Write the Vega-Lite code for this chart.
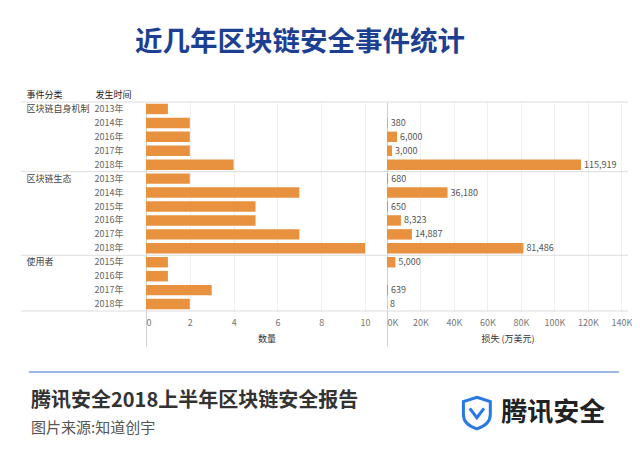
{
  "$schema": "https://vega.github.io/schema/vega-lite/v6.json",
  "padding": {"left": 20, "top": 28, "right": 0, "bottom": 0},
  "background": "white",
  "title": {"text": "近几年区块链安全事件统计", "fontSize": 27.5, "fontWeight": "bold", "color": "#1d3f91", "anchor": "middle", "dx": -26, "offset": 34},
  "datasets": {
    "rows": [
      {"key": "区块链自身机制|2013年", "cat": "区块链自身机制", "year": "2013年", "count": 1, "loss": null},
      {"key": "区块链自身机制|2014年", "cat": "区块链自身机制", "year": "2014年", "count": 2, "loss": 380},
      {"key": "区块链自身机制|2016年", "cat": "区块链自身机制", "year": "2016年", "count": 2, "loss": 6000},
      {"key": "区块链自身机制|2017年", "cat": "区块链自身机制", "year": "2017年", "count": 2, "loss": 3000},
      {"key": "区块链自身机制|2018年", "cat": "区块链自身机制", "year": "2018年", "count": 4, "loss": 115919},
      {"key": "区块链生态|2013年", "cat": "区块链生态", "year": "2013年", "count": 2, "loss": 680},
      {"key": "区块链生态|2014年", "cat": "区块链生态", "year": "2014年", "count": 7, "loss": 36180},
      {"key": "区块链生态|2015年", "cat": "区块链生态", "year": "2015年", "count": 5, "loss": 650},
      {"key": "区块链生态|2016年", "cat": "区块链生态", "year": "2016年", "count": 5, "loss": 8323},
      {"key": "区块链生态|2017年", "cat": "区块链生态", "year": "2017年", "count": 7, "loss": 14887},
      {"key": "区块链生态|2018年", "cat": "区块链生态", "year": "2018年", "count": 10, "loss": 81486},
      {"key": "使用者|2015年", "cat": "使用者", "year": "2015年", "count": 1, "loss": 5000},
      {"key": "使用者|2016年", "cat": "使用者", "year": "2016年", "count": 1, "loss": null},
      {"key": "使用者|2017年", "cat": "使用者", "year": "2017年", "count": 3, "loss": 639},
      {"key": "使用者|2018年", "cat": "使用者", "year": "2018年", "count": 2, "loss": 8}
    ],
    "tops": [{"key": "区块链自身机制|2013年"}, {"key": "区块链生态|2013年"}, {"key": "使用者|2015年"}],
    "ends": [{"key": "使用者|2018年"}]
  },
  "spacing": 24,
  "vconcat": [
    {
      "bounds": "flush",
      "spacing": 0,
      "hconcat": [
        {
          "width": 73, "height": 209,
          "layer": [
            {
              "data": {"name": "tops"},
              "mark": {"type": "rule", "color": "#dcdcdc", "strokeWidth": 1},
              "encoding": {
                "y": {"field": "key", "type": "nominal", "bandPosition": 0, "sort": null,
                  "scale": {"domain": ["区块链自身机制|2013年","区块链自身机制|2014年","区块链自身机制|2016年","区块链自身机制|2017年","区块链自身机制|2018年","区块链生态|2013年","区块链生态|2014年","区块链生态|2015年","区块链生态|2016年","区块链生态|2017年","区块链生态|2018年","使用者|2015年","使用者|2016年","使用者|2017年","使用者|2018年"], "paddingInner": 0, "paddingOuter": 0},
                  "axis": {"orient": "left", "domain": false, "ticks": false, "grid": false, "labelAlign": "left", "labelPadding": -5, "labelFontSize": 9, "labelColor": "#444", "labelOverlap": false,
                    "labelExpr": "indexof(['区块链自身机制|2013年','区块链生态|2013年','使用者|2015年'], datum.value) >= 0 ? split(datum.value, '|')[0] : ''",
                    "title": "事件分类", "titleAngle": 0, "titleAlign": "left", "titleBaseline": "middle", "titleX": 5, "titleY": -8, "titleFontSize": 9, "titleFontWeight": "normal", "titleColor": "#222"}}
              }
            },
            {
              "data": {"name": "ends"},
              "mark": {"type": "rule", "color": "#dcdcdc", "strokeWidth": 1},
              "encoding": {
                "y": {"field": "key", "type": "nominal", "bandPosition": 1, "sort": null,
                  "axis": {"orient": "left", "domain": false, "ticks": false, "grid": false, "labelAlign": "left", "labelPadding": -5, "labelFontSize": 9, "labelColor": "#444", "labelOverlap": false,
                    "labelExpr": "indexof(['区块链自身机制|2013年','区块链生态|2013年','使用者|2015年'], datum.value) >= 0 ? split(datum.value, '|')[0] : ''",
                    "title": "事件分类", "titleAngle": 0, "titleAlign": "left", "titleBaseline": "middle", "titleX": 5, "titleY": -8, "titleFontSize": 9, "titleFontWeight": "normal", "titleColor": "#222"}}
              }
            }
          ]
        },
        {
          "width": 52, "height": 209,
          "layer": [
            {
              "data": {"name": "tops"},
              "mark": {"type": "rule", "color": "#dcdcdc", "strokeWidth": 1},
              "encoding": {
                "y": {"field": "key", "type": "nominal", "bandPosition": 0, "sort": null,
                  "scale": {"domain": ["区块链自身机制|2013年","区块链自身机制|2014年","区块链自身机制|2016年","区块链自身机制|2017年","区块链自身机制|2018年","区块链生态|2013年","区块链生态|2014年","区块链生态|2015年","区块链生态|2016年","区块链生态|2017年","区块链生态|2018年","使用者|2015年","使用者|2016年","使用者|2017年","使用者|2018年"], "paddingInner": 0, "paddingOuter": 0},
                  "axis": {"orient": "left", "domain": false, "ticks": false, "grid": false, "labelAlign": "left", "labelPadding": 0, "labelFontSize": 9, "labelColor": "#666", "labelOverlap": false,
                    "labelExpr": "split(datum.value, '|')[1]",
                    "title": "发生时间", "titleAngle": 0, "titleAlign": "left", "titleBaseline": "middle", "titleX": 1, "titleY": -8, "titleFontSize": 9, "titleFontWeight": "normal", "titleColor": "#222"}}
              }
            },
            {
              "data": {"name": "ends"},
              "mark": {"type": "rule", "color": "#dcdcdc", "strokeWidth": 1},
              "encoding": {
                "y": {"field": "key", "type": "nominal", "bandPosition": 1, "sort": null,
                  "axis": {"orient": "left", "domain": false, "ticks": false, "grid": false, "labelAlign": "left", "labelPadding": 0, "labelFontSize": 9, "labelColor": "#666", "labelOverlap": false,
                    "labelExpr": "split(datum.value, '|')[1]",
                    "title": "发生时间", "titleAngle": 0, "titleAlign": "left", "titleBaseline": "middle", "titleX": 1, "titleY": -8, "titleFontSize": 9, "titleFontWeight": "normal", "titleColor": "#222"}}
              }
            }
          ]
        },
        {
          "width": 241, "height": 209,
          "layer": [
            {
              "data": {"name": "rows"},
              "mark": {"type": "bar", "color": "#E8913F", "height": {"band": 0.75}},
              "encoding": {
                "y": {"field": "key", "type": "nominal", "sort": null,
                  "scale": {"domain": ["区块链自身机制|2013年","区块链自身机制|2014年","区块链自身机制|2016年","区块链自身机制|2017年","区块链自身机制|2018年","区块链生态|2013年","区块链生态|2014年","区块链生态|2015年","区块链生态|2016年","区块链生态|2017年","区块链生态|2018年","使用者|2015年","使用者|2016年","使用者|2017年","使用者|2018年"], "paddingInner": 0, "paddingOuter": 0},
                  "axis": null},
                "x": {"field": "count", "type": "quantitative", "scale": {"domain": [0, 11], "nice": false},
                  "axis": {"values": [0, 2, 4, 6, 8, 10], "grid": true, "labelOverlap": false,
                    "gridColor": {"condition": {"test": "datum.value === 0", "value": "#d0d0d0"}, "value": "#efefef"},
                    "domain": false, "ticks": true, "tickSize": 35,
                    "tickColor": {"condition": {"test": "datum.value === 0", "value": "#d0d0d0"}, "value": "transparent"},
                    "labelPadding": -28, "labelFontSize": 9, "labelColor": "#777", "labelFlush": true,
                    "title": "数量", "titleFontSize": 9, "titleFontWeight": "normal", "titleColor": "#333", "titleY": 27, "titleBaseline": "middle"}}
              }
            },
            {
              "data": {"name": "tops"},
              "mark": {"type": "rule", "color": "#dcdcdc", "strokeWidth": 1},
              "encoding": {"y": {"field": "key", "type": "nominal", "bandPosition": 0, "sort": null, "axis": null}}
            },
            {
              "data": {"name": "ends"},
              "mark": {"type": "rule", "color": "#dcdcdc", "strokeWidth": 1},
              "encoding": {"y": {"field": "key", "type": "nominal", "bandPosition": 1, "sort": null, "axis": null}}
            }
          ]
        },
        {
          "width": 241, "height": 209,
          "layer": [
            {
              "data": {"name": "rows"},
              "mark": {"type": "bar", "color": "#E8913F", "height": {"band": 0.75}},
              "encoding": {
                "y": {"field": "key", "type": "nominal", "sort": null,
                  "scale": {"domain": ["区块链自身机制|2013年","区块链自身机制|2014年","区块链自身机制|2016年","区块链自身机制|2017年","区块链自身机制|2018年","区块链生态|2013年","区块链生态|2014年","区块链生态|2015年","区块链生态|2016年","区块链生态|2017年","区块链生态|2018年","使用者|2015年","使用者|2016年","使用者|2017年","使用者|2018年"], "paddingInner": 0, "paddingOuter": 0},
                  "axis": null},
                "x": {"field": "loss", "type": "quantitative", "scale": {"domain": [0, 144000], "nice": false},
                  "axis": {"values": [0, 20000, 40000, 60000, 80000, 100000, 120000, 140000], "grid": true, "labelOverlap": false,
                    "gridColor": {"condition": {"test": "datum.value === 0", "value": "#d0d0d0"}, "value": "#efefef"},
                    "domain": false, "ticks": true, "tickSize": 35,
                    "tickColor": {"condition": {"test": "datum.value === 0", "value": "#d0d0d0"}, "value": "transparent"},
                    "labelPadding": -28, "labelFontSize": 9, "labelColor": "#777", "labelFlush": true,
                    "labelExpr": "(datum.value / 1000) + 'K'",
                    "title": "损失 (万美元)", "titleFontSize": 9, "titleFontWeight": "normal", "titleColor": "#333", "titleY": 27, "titleBaseline": "middle"}}
              }
            },
            {
              "data": {"name": "rows"},
              "mark": {"type": "text", "align": "left", "baseline": "middle", "dx": 3, "fontSize": 9, "color": "#555"},
              "encoding": {
                "y": {"field": "key", "type": "nominal", "sort": null, "axis": null},
                "x": {"field": "loss", "type": "quantitative",
                  "axis": {"values": [0, 20000, 40000, 60000, 80000, 100000, 120000, 140000], "grid": true, "labelOverlap": false,
                    "gridColor": {"condition": {"test": "datum.value === 0", "value": "#d0d0d0"}, "value": "#efefef"},
                    "domain": false, "ticks": true, "tickSize": 35,
                    "tickColor": {"condition": {"test": "datum.value === 0", "value": "#d0d0d0"}, "value": "transparent"},
                    "labelPadding": -28, "labelFontSize": 9, "labelColor": "#777", "labelFlush": true,
                    "labelExpr": "(datum.value / 1000) + 'K'",
                    "title": "损失 (万美元)", "titleFontSize": 9, "titleFontWeight": "normal", "titleColor": "#333", "titleY": 27, "titleBaseline": "middle"}},
                "text": {"field": "loss", "type": "quantitative", "format": ","}
              }
            },
            {
              "data": {"name": "tops"},
              "mark": {"type": "rule", "color": "#dcdcdc", "strokeWidth": 1},
              "encoding": {"y": {"field": "key", "type": "nominal", "bandPosition": 0, "sort": null, "axis": null}}
            },
            {
              "data": {"name": "ends"},
              "mark": {"type": "rule", "color": "#dcdcdc", "strokeWidth": 1},
              "encoding": {"y": {"field": "key", "type": "nominal", "bandPosition": 1, "sort": null, "axis": null}}
            }
          ]
        }
      ]
    },
    {
      "width": 607, "height": 75,
      "data": {"values": [{}]},
      "layer": [
        {
          "mark": {"type": "rule", "color": "#7d9fd8", "strokeWidth": 1.5},
          "encoding": {
            "x": {"datum": 0.013, "type": "quantitative", "scale": {"domain": [0, 1]}, "axis": null},
            "x2": {"datum": 0.985},
            "y": {"datum": 1, "type": "quantitative", "scale": {"domain": [0, 1]}, "axis": null}
          }
        },
        {
          "mark": {"type": "text", "text": "腾讯安全2018上半年区块链安全报告", "align": "left", "baseline": "middle", "fontSize": 20, "fontWeight": "bold", "color": "#333"},
          "encoding": {
            "x": {"datum": 0.0165, "type": "quantitative", "axis": null},
            "y": {"datum": 0.61, "type": "quantitative", "axis": null}
          }
        },
        {
          "mark": {"type": "text", "text": "图片来源:知道创宇", "align": "left", "baseline": "middle", "fontSize": 15, "color": "#555"},
          "encoding": {
            "x": {"datum": 0.0165, "type": "quantitative", "axis": null},
            "y": {"datum": 0.253, "type": "quantitative", "axis": null}
          }
        },
        {
          "mark": {"type": "point", "shape": "M0,-1 L0.85,-0.72 L0.85,0.1 C0.85,0.6 0.4,0.88 0,1 C-0.4,0.88 -0.85,0.6 -0.85,0.1 L-0.85,-0.72 Z", "filled": false, "stroke": "#2b78e4", "strokeWidth": 3, "size": 1000, "opacity": 1},
          "encoding": {
            "x": {"datum": 0.751, "type": "quantitative", "axis": null},
            "y": {"datum": 0.453, "type": "quantitative", "axis": null}
          }
        },
        {
          "mark": {"type": "point", "shape": "M-0.45,-0.3 L0,0.3 L0.45,-0.3", "filled": false, "stroke": "#2b78e4", "strokeWidth": 3, "size": 1000, "opacity": 1},
          "encoding": {
            "x": {"datum": 0.751, "type": "quantitative", "axis": null},
            "y": {"datum": 0.453, "type": "quantitative", "axis": null}
          }
        },
        {
          "mark": {"type": "text", "text": "腾讯安全", "align": "left", "baseline": "middle", "fontSize": 26, "fontWeight": "bold", "color": "#222"},
          "encoding": {
            "x": {"datum": 0.791, "type": "quantitative", "axis": null},
            "y": {"datum": 0.453, "type": "quantitative", "axis": null}
          }
        }
      ]
    }
  ],
  "config": {
    "view": {"stroke": null},
    "font": "Noto Sans CJK SC"
  }
}
